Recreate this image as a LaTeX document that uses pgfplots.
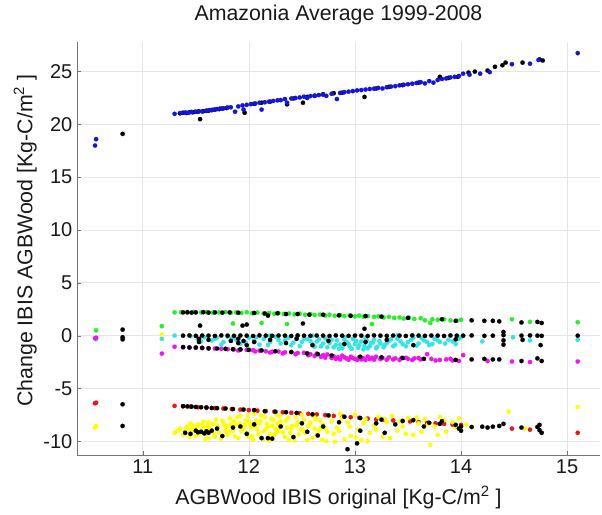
\documentclass[border=0pt]{standalone}
\usepackage{pgfplots}
\pgfplotsset{compat=1.18}
\usepackage{fontspec}
\setmainfont{Liberation Sans}
\definecolor{mblue}{RGB}{20,20,220}
\definecolor{mgreen}{RGB}{40,240,40}
\definecolor{mcyan}{RGB}{50,230,230}
\definecolor{mmag}{RGB}{240,20,240}
\definecolor{mred}{RGB}{240,20,20}
\definecolor{myel}{RGB}{255,255,0}
\pgfplotsset{dot/.style={color=#1, only marks, mark=*, mark size=1.65pt, mark options={solid, fill=#1, draw=#1, line width=0.1pt}}}
\begin{document}
\begin{tikzpicture}
\begin{axis}[name=ax, scale only axis, width=392.25pt, height=309.75pt,
  xmin=10.38, xmax=15.31, ymin=-11.3, ymax=27.8,
  xtick={11,12,13,14,15}, ytick={-10,-5,0,5,10,15,20,25},
  axis x line*=bottom, axis y line*=left,
  grid=major, grid style={black!10, line width=0.5pt},
  axis line style={black!55}, tick style={black!55},
  tick align=inside, major tick length=3pt,
  ticklabel style={font=\fontsize{15}{15}\selectfont, text=black!90},
  /pgf/number format/assume math mode=true,
  title={Amazonia Average 1999-2008},
  title style={font=\fontsize{16}{16}\selectfont, text=black!90, yshift=3pt},
  xlabel={AGBWood IBIS original [Kg-C/m\textsuperscript{2} ]},
  ylabel={Change IBIS AGBWood [Kg-C/m\textsuperscript{2} ]},
  label style={font=\fontsize{16}{16}\selectfont, text=black!90},
  xlabel style={yshift=-2pt},
  ylabel style={xshift=6pt, yshift=-2pt},
  clip=false,
]
% black (upper band, drawn under blue)
\addplot[dot=black] coordinates {
(11.35,21.05)(11.38,21.10)(11.41,21.08)(11.44,21.15)(11.47,21.15)(11.49,21.18)(11.52,21.20)(11.54,20.50)
(11.57,21.25)(11.60,21.28)(11.62,21.30)(11.65,21.35)(11.68,21.40)(11.72,21.45)(11.75,21.50)(11.79,21.55)
(11.96,21.10)(12.05,21.95)(12.12,22.05)(12.20,22.15)(12.36,21.90)(12.42,22.45)(12.51,22.05)(12.55,22.60)
(12.62,22.70)(12.70,22.85)(12.80,22.95)(12.88,23.00)(13.09,22.60)(13.20,23.40)(13.32,23.55)(13.45,23.72)
(13.60,23.95)(13.80,24.50)(13.88,24.40)(13.97,24.50)(14.07,24.90)(14.13,25.00)(14.25,25.10)(14.32,25.45)
(14.39,25.60)(14.42,25.85)(14.58,25.85)(14.74,26.15)(14.77,26.05)(10.81,19.10)
};
% blue
\addplot[dot=mblue] coordinates {
(11.30,21.00)(11.36,21.08)(11.40,21.12)(11.43,21.10)(11.46,21.18)(11.50,21.20)(11.53,21.25)(11.56,21.22)
(11.60,21.30)(11.63,21.35)(11.66,21.38)(11.70,21.45)(11.73,21.50)(11.76,21.52)(11.80,21.60)(11.83,21.62)
(11.87,21.20)(11.90,21.70)(11.94,21.80)(11.95,21.40)(11.98,21.85)(12.02,21.92)(12.06,21.98)(12.10,22.05)(12.12,21.40)
(12.15,22.10)(12.19,22.15)(12.23,22.22)(12.27,22.28)(12.30,22.30)(12.34,22.40)(12.36,22.05)(12.40,22.45)
(12.44,22.50)(12.48,22.55)(12.52,22.62)(12.55,22.50)(12.58,22.68)(12.62,22.72)(12.66,22.78)(12.70,22.82)
(12.73,22.70)(12.78,22.90)(12.83,22.40)(12.86,22.98)(12.90,23.05)(12.94,23.10)(12.98,23.15)(13.02,23.22)
(13.06,23.25)(13.10,23.30)(13.14,23.35)(13.18,23.38)(13.22,23.45)(13.26,23.40)(13.30,23.52)(13.34,23.58)
(13.38,23.62)(13.42,23.70)(13.46,23.75)(13.50,23.80)(13.54,23.85)(13.58,23.92)(13.62,24.00)(13.66,23.88)
(13.70,24.10)(13.74,23.95)(13.78,24.20)(13.82,24.30)(13.86,24.35)(13.90,24.45)(13.94,24.50)(13.98,24.58)
(14.02,24.80)(14.08,24.70)(14.18,24.80)(14.27,24.95)(14.48,25.70)(14.65,25.75)(14.73,26.10)(15.10,26.75)
(10.55,18.00)(10.56,18.60)
};
% green
\addplot[dot=mgreen] coordinates {
(11.30,2.20)(11.36,2.22)(11.42,2.18)(11.48,2.25)(11.55,2.20)(11.60,2.22)(11.66,2.18)(11.72,2.20)
(11.78,2.24)(11.83,2.16)(11.85,1.15)(11.88,2.20)(11.93,2.15)(11.98,2.22)(12.03,2.12)(12.08,2.18)
(12.12,1.20)(12.14,2.10)(12.19,2.15)(12.24,2.08)(12.28,2.14)(12.33,2.05)(12.36,1.10)(12.38,2.10)
(12.43,2.02)(12.48,2.08)(12.53,1.98)(12.58,2.05)(12.62,1.95)(12.67,2.00)(12.72,1.90)(12.76,1.97)
(12.81,1.88)(12.86,1.95)(12.90,1.85)(12.95,1.92)(13.00,1.82)(13.04,1.90)(13.08,1.80)(13.12,1.85)
(13.16,1.10)(13.18,1.78)(13.22,1.83)(13.27,1.72)(13.32,1.78)(13.37,1.68)(13.42,1.72)(13.46,1.62)
(13.51,1.70)(13.56,1.58)(13.62,1.65)(13.66,1.45)(13.71,1.20)(13.73,1.55)(13.78,1.50)(13.84,1.55)
(13.90,1.45)(13.96,1.42)(14.00,1.50)(14.48,1.55)(14.65,1.30)(15.10,1.27)(10.56,0.50)(11.18,0.90)
};
% cyan
\addplot[dot=mcyan] coordinates {
(11.30,0.00)(11.45,-0.05)(11.52,-0.35)(11.58,-0.15)(11.65,-0.45)(11.70,-0.20)(11.76,-0.60)(11.80,-0.10)
(11.88,-0.40)(11.92,-0.75)(12.00,-0.20)(12.05,-0.50)(12.10,-0.85)(12.14,-0.30)(12.20,-0.60)(12.25,-0.10)
(12.30,-0.75)(12.34,-0.45)(12.40,-0.90)(12.45,-0.20)(12.50,-0.60)(12.55,-0.35)(12.60,-0.80)(12.64,-0.55)
(12.68,-1.00)(12.72,-0.25)(12.76,-0.70)(12.80,-1.10)(12.83,-0.45)(12.86,-0.85)(12.88,-1.20)(12.92,-0.60)
(12.95,-1.00)(12.98,-0.30)(13.00,-0.80)(13.03,-1.15)(13.06,-0.55)(13.09,-0.95)(13.12,-1.20)(13.15,-0.70)
(13.18,-0.40)(13.21,-1.05)(13.24,-0.75)(13.28,-0.90)(13.32,-0.50)(13.36,-1.00)(13.40,-0.30)(13.45,-0.80)
(13.50,-0.60)(13.55,-0.20)(13.60,-0.75)(13.65,-0.45)(13.70,-0.90)(13.75,-0.30)(13.80,-0.60)(13.88,-0.40)
(13.95,-0.80)(14.00,-0.15)(14.20,-0.55)(14.49,-0.15)(14.65,-0.45)(15.10,-0.40)(10.56,-0.35)(11.18,-0.30)
(12.20,0.00)(12.60,0.00)(13.40,0.02)(12.90,-0.15)(13.10,-0.25)
(11.55,-0.55)(11.68,-0.30)(11.74,-0.85)(11.84,-0.25)(11.97,-0.65)(12.07,-0.15)(12.18,-0.90)(12.28,-0.40)
(12.37,-0.20)(12.42,-0.65)(12.48,-1.00)(12.52,-0.30)(12.58,-0.50)(12.62,-1.05)(12.66,-0.35)(12.70,-0.75)
(12.74,-1.10)(12.78,-0.40)(12.82,-0.90)(12.85,-1.25)(12.90,-0.35)(12.94,-0.80)(12.97,-1.25)(13.01,-0.50)
(13.04,-0.90)(13.08,-1.30)(13.11,-0.45)(13.14,-1.00)(13.17,-0.65)(13.20,-1.20)(13.23,-0.50)(13.27,-1.10)
(13.30,-0.70)(13.34,-0.35)(13.38,-0.85)(13.43,-0.55)(13.48,-1.00)(13.53,-0.40)(13.58,-0.95)(13.63,-0.25)
(13.68,-0.60)(13.73,-0.80)(13.78,-0.45)(13.85,-0.75)(13.92,-0.55)(13.98,-0.30)
};
% magenta
\addplot[dot=mmag] coordinates {
(11.30,-1.05)(11.38,-1.10)(11.44,-1.12)(11.50,-1.15)(11.56,-1.18)(11.62,-1.20)(11.68,-1.22)(11.74,-1.25)
(11.80,-1.28)(11.86,-1.30)(11.92,-1.33)(11.98,-1.35)(12.04,-1.38)(12.10,-1.42)(12.16,-1.48)(12.22,-1.52)
(12.28,-1.50)(12.34,-1.58)(12.40,-1.55)(12.46,-1.65)(12.52,-1.62)(12.58,-1.75)(12.64,-1.70)(12.70,-1.85)
(12.74,-1.78)(12.80,-1.95)(12.84,-2.05)(12.88,-1.90)(12.92,-2.15)(12.96,-2.00)(13.00,-2.20)(13.04,-2.05)
(13.08,-2.15)(13.12,-1.98)(13.16,-2.10)(13.20,-2.00)(13.26,-2.12)(13.32,-2.05)(13.38,-2.15)(13.44,-2.10)
(13.50,-2.20)(13.56,-2.15)(13.62,-2.25)(13.68,-1.75)(13.72,-2.20)(13.80,-2.30)(13.86,-2.25)(13.92,-2.35)
(13.98,-2.40)(14.02,-1.85)(14.25,-2.40)(14.48,-2.45)(14.65,-2.50)(15.10,-2.45)(10.56,-0.20)(10.55,-0.25)
(11.18,-1.70)
(11.90,-1.40)(12.06,-1.50)(12.20,-1.60)(12.32,-1.68)(12.44,-1.75)(12.56,-1.85)(12.62,-1.92)(12.68,-2.00)
(12.72,-2.08)(12.78,-2.12)(12.82,-2.20)(12.86,-2.25)(12.90,-2.05)(12.94,-2.28)(12.98,-2.12)(13.02,-2.30)
(13.06,-2.25)(13.10,-2.30)(13.14,-2.22)(13.18,-2.28)(13.24,-2.22)(13.30,-2.28)(13.36,-2.25)(13.42,-2.30)
(13.48,-2.10)(13.54,-2.30)(13.60,-2.12)(13.76,-2.35)(13.90,-2.20)
};
% red
\addplot[dot=mred] coordinates {
(11.30,-6.65)(11.38,-6.68)(11.45,-6.72)(11.52,-6.78)(11.60,-6.82)(11.68,-6.86)(11.76,-6.90)(11.84,-6.95)
(11.92,-7.00)(12.00,-7.05)(12.08,-7.10)(12.16,-7.15)(12.24,-7.20)(12.32,-7.25)(12.40,-7.30)(12.48,-7.35)
(12.56,-7.40)(12.64,-7.45)(12.72,-7.52)(12.80,-7.60)(12.88,-7.66)(12.96,-7.72)(13.04,-7.78)(13.12,-7.85)
(13.20,-7.92)(13.28,-7.98)(13.36,-8.02)(13.44,-8.08)(13.52,-8.12)(13.60,-8.18)(13.68,-8.25)(13.76,-8.30)
(13.84,-8.35)(13.92,-8.42)(14.00,-8.45)(14.48,-8.80)(14.65,-8.90)(15.10,-9.20)(10.56,-6.35)(10.55,-6.40)
};
% yellow
\addplot[dot=myel] coordinates {
(11.30,-9.20)(11.35,-8.80)(11.38,-9.40)(11.42,-8.60)(11.45,-9.10)(11.48,-8.90)(11.50,-9.50)(11.52,-8.40)
(11.55,-9.00)(11.58,-8.70)(11.60,-9.30)(11.62,-8.20)(11.65,-8.95)(11.68,-9.60)(11.70,-8.50)(11.72,-9.15)
(11.75,-8.05)(11.78,-8.80)(11.80,-9.40)(11.82,-7.80)(11.85,-9.00)(11.88,-8.40)(11.90,-9.70)(11.92,-7.60)
(11.95,-8.70)(11.98,-9.20)(12.00,-8.10)(12.03,-9.50)(12.05,-7.40)(12.08,-8.90)(12.10,-8.30)(12.13,-9.80)
(12.15,-7.70)(12.18,-8.60)(12.20,-9.30)(12.23,-8.00)(12.26,-7.45)(12.28,-9.00)(12.31,-8.50)(12.34,-9.60)
(12.37,-7.80)(12.40,-8.80)(12.43,-9.90)(12.46,-8.20)(12.50,-7.50)(12.53,-9.20)(12.56,-8.60)(12.60,-9.70)
(12.63,-7.90)(12.66,-9.00)(12.70,-8.40)(12.73,-10.00)(12.76,-7.60)(12.80,-9.30)(12.83,-8.70)(12.86,-7.40)
(12.90,-9.80)(12.93,-8.20)(12.96,-9.50)(13.00,-7.50)(13.03,-8.90)(13.06,-9.90)(13.10,-7.90)(13.14,-9.20)
(13.18,-8.50)(13.22,-7.70)(13.26,-9.60)(13.30,-8.20)(13.35,-7.60)(13.40,-9.00)(13.45,-8.60)(13.50,-7.80)
(13.55,-9.40)(13.60,-8.30)(13.66,-7.90)(13.71,-10.35)(13.75,-8.60)(13.80,-7.70)(13.86,-9.10)(13.92,-8.20)
(13.98,-7.85)(14.05,-8.40)(14.45,-7.20)(14.60,-8.80)(14.72,-8.60)(15.10,-6.75)(10.56,-8.55)(10.55,-8.70)
(11.18,0.10)(11.45,-8.30)(11.62,-9.70)(11.78,-9.05)(12.00,-9.55)(12.25,-8.80)
(11.33,-9.00)(11.40,-8.95)(11.44,-9.60)(11.47,-8.50)(11.53,-9.35)(11.57,-8.15)(11.59,-9.80)(11.63,-8.75)
(11.67,-9.25)(11.69,-7.95)(11.74,-9.75)(11.77,-8.45)(11.81,-9.10)(11.84,-8.25)(11.87,-9.55)(11.89,-7.70)
(11.93,-9.05)(11.96,-8.45)(11.99,-7.55)(12.02,-8.70)(12.04,-9.85)(12.07,-8.05)(12.09,-9.35)(12.12,-7.55)
(12.16,-8.85)(12.19,-9.95)(12.21,-7.85)(12.24,-9.40)(12.27,-8.30)(12.29,-7.60)(12.32,-9.15)(12.35,-8.05)
(12.38,-9.85)(12.41,-8.55)(12.44,-7.70)(12.47,-9.35)(12.49,-8.85)(12.52,-7.95)(12.55,-9.90)(12.58,-8.25)
(12.61,-7.65)(12.64,-9.40)(12.67,-8.05)(12.69,-9.85)(12.72,-8.75)(12.78,-8.10)(12.81,-10.05)(12.85,-9.00)
(12.88,-7.80)(12.95,-8.60)(13.01,-9.60)(13.08,-8.30)(13.12,-10.00)(13.20,-8.90)(13.28,-7.90)(13.33,-9.70)
(13.42,-8.10)(13.48,-9.30)(13.58,-7.75)(13.63,-9.10)(13.69,-8.40)(13.78,-9.40)(13.84,-8.00)(13.95,-8.70)
(11.41,-8.75)(11.46,-8.85)(11.51,-8.65)(11.56,-8.45)(11.61,-8.55)(11.66,-8.35)(11.71,-8.65)(11.76,-8.25)
(11.79,-8.60)(11.83,-8.50)(11.86,-8.15)(11.91,-8.30)(11.94,-8.95)(11.97,-8.05)(12.01,-8.40)(12.06,-8.60)
(12.11,-8.10)(12.14,-9.05)(12.17,-8.35)(12.22,-8.55)(12.26,-9.15)(12.30,-8.10)(12.36,-8.70)(12.39,-9.20)
(12.45,-8.50)(12.51,-8.95)(12.57,-8.40)(12.62,-8.80)(12.68,-8.70)(12.74,-9.10)
};
% black (other bands)
\addplot[dot=black] coordinates {
(11.38,2.20)(11.42,2.22)(11.46,2.18)(11.50,2.20)(11.54,0.95)(11.57,2.22)(11.62,2.18)(11.68,2.20)
(11.75,2.18)(11.82,2.20)(11.90,2.17)(11.94,0.95)(11.98,1.05)(12.05,2.15)(12.15,2.10)(12.18,1.90)
(12.27,2.12)(12.35,2.05)(12.46,2.05)(12.51,1.15)(12.57,1.98)(12.70,1.98)(12.85,1.92)(12.96,1.88)
(13.09,0.65)(13.10,1.85)(13.25,1.80)(13.50,1.68)(13.82,1.55)(13.95,1.40)(14.10,1.45)(14.22,1.40)
(14.30,1.40)(14.36,1.35)(14.57,1.25)(14.72,1.30)(14.76,1.20)(10.81,0.57)
(11.38,0.00)(11.44,0.02)(11.50,-0.02)(11.56,0.01)(11.62,0.00)(11.68,-0.03)(11.74,0.02)(11.80,0.00)
(11.86,-0.02)(11.92,0.01)(11.98,0.00)(12.04,-0.03)(12.10,0.02)(12.16,0.00)(12.22,-0.02)(12.28,0.01)
(12.34,0.00)(12.40,-0.03)(12.46,0.02)(12.52,0.00)(12.58,-0.02)(12.64,0.01)(12.70,0.00)(12.76,-0.03)
(12.82,0.02)(12.88,0.00)(12.94,-0.02)(13.00,0.01)(13.06,0.00)(13.12,-0.03)(13.18,0.02)(13.24,0.00)
(13.30,-0.02)(13.36,0.01)(13.42,0.00)(13.48,-0.03)(13.54,0.02)(13.60,0.00)(13.66,-0.02)(13.72,0.01)
(13.78,0.00)(13.84,-0.03)(13.90,0.02)(13.96,0.00)(14.02,0.00)(14.10,0.02)(14.22,-0.02)(14.30,0.00)
(14.40,0.05)(14.57,0.00)(14.65,0.02)(14.72,0.00)(14.76,-0.02)(15.10,0.00)(10.81,-0.15)(10.81,-0.35)
(11.53,-0.30)(11.53,-0.60)(11.62,-0.40)(11.83,-0.50)(11.90,-0.30)(11.90,-0.70)(11.95,-0.50)(11.98,-0.90)
(12.05,-0.60)(12.20,-0.40)(12.35,-0.70)(12.45,-0.30)(12.60,-0.90)(12.75,-0.50)(12.90,-0.80)(13.10,-0.60)
(13.30,-0.40)(13.55,-0.90)(13.95,-0.35)(14.40,0.35)(14.40,-0.45)(14.40,-0.85)(14.58,-0.40)(14.75,-0.90)
(11.38,-1.08)(11.44,-1.12)(11.50,-1.12)(11.56,-1.15)(11.62,-1.20)(11.70,-1.22)(11.78,-1.25)(11.85,-1.28)
(11.92,-1.30)(12.00,-1.35)(12.12,-1.40)(12.25,-1.48)(12.40,-1.55)(12.55,-1.68)(12.65,-1.75)(12.78,-1.88)
(13.05,-2.00)(13.25,-2.05)(13.45,-2.12)(13.65,-2.20)(13.95,-2.30)(14.10,-2.25)(14.22,-2.20)(14.30,-2.25)
(14.36,-2.25)(14.57,-2.40)(14.72,-2.15)(14.76,-2.40)
(11.38,-6.68)(11.42,-6.70)(11.46,-6.72)(11.50,-6.75)(11.55,-6.78)(11.60,-6.80)(11.65,-6.85)(11.70,-6.86)
(11.78,-6.90)(11.85,-6.95)(11.95,-7.00)(12.05,-7.05)(12.15,-7.15)(12.25,-7.20)(12.35,-7.25)(12.45,-7.32)
(12.60,-7.45)(12.75,-7.55)(12.90,-7.68)(13.05,-7.80)(13.25,-7.95)(13.45,-8.08)(13.70,-8.25)(13.80,-8.35)
(13.95,-8.45)(14.00,-8.60)(14.10,-8.65)(14.20,-8.62)(14.25,-8.70)(14.30,-8.62)(14.36,-8.55)(14.40,-8.35)
(14.57,-8.70)(14.72,-8.65)(14.74,-8.95)(14.76,-9.20)(14.74,-8.45)(10.81,-6.50)
(11.40,-9.20)(11.45,-9.30)(11.50,-9.00)(11.52,-9.15)(11.55,-9.10)(11.58,-9.25)(11.60,-9.05)(11.62,-9.20)
(11.65,-9.00)(11.70,-8.80)(11.75,-9.50)(11.85,-8.70)(11.92,-8.60)(11.98,-9.30)(12.05,-8.40)(12.12,-9.70)
(12.18,-9.70)(12.22,-9.75)(12.30,-8.60)(12.42,-9.60)(12.50,-8.30)(12.55,-9.10)(12.65,-9.45)(12.70,-8.60)
(12.85,-8.20)(12.93,-10.75)(13.02,-10.20)(13.05,-9.00)(13.20,-8.30)(13.28,-9.20)(13.38,-8.40)(13.55,-8.00)
(13.65,-8.60)(13.82,-8.10)(13.98,-8.80)(14.00,-9.00)(10.81,-8.55)
};
\end{axis}
\pgfresetboundingbox
\path[use as bounding box] ([shift={(-57.75pt,-44.25pt)}]ax.south west) rectangle ([shift={(1.5pt,31.5pt)}]ax.north east);
\end{tikzpicture}
\end{document}
